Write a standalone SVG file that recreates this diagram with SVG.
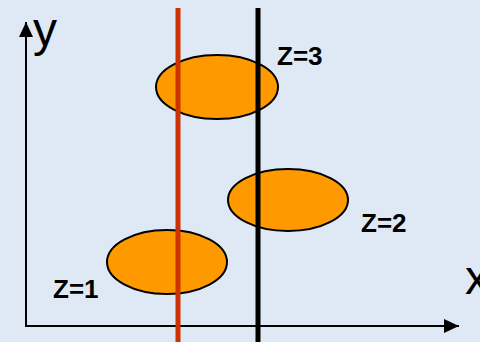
<svg xmlns="http://www.w3.org/2000/svg" width="480" height="342" viewBox="0 0 480 342">
<defs>
<marker id="ah" markerWidth="16" markerHeight="14" refX="15" refY="7" orient="auto" markerUnits="userSpaceOnUse"><path d="M0,0 L15,7 L0,14 Z" fill="#000"/></marker>
<style>
.el{fill:#ff9900;stroke:#000;stroke-width:2}
.lbl{font-family:"Liberation Sans",Arial,sans-serif;font-weight:bold;font-size:26px;fill:#000}
.ax{font-family:"Liberation Sans",Arial,sans-serif;font-size:48px;fill:#000}
</style>
</defs>
<rect width="480" height="342" fill="#dfe9f5"/>
<g id="connectors">
<line x1="26" y1="327" x2="26" y2="22" stroke="#000" stroke-width="2" marker-end="url(#ah)"/>
<line x1="26" y1="326" x2="459" y2="326" stroke="#000" stroke-width="2" marker-end="url(#ah)"/>
</g>
<g id="labels-axes">
<text class="ax" x="33" y="46">y</text>
<text class="ax" x="465" y="294">x</text>
</g>
<g id="e3"><ellipse class="el" cx="217" cy="87" rx="61" ry="32"/><text class="lbl" x="277" y="65">Z=3</text></g>
<g id="e2"><ellipse class="el" cx="288" cy="200" rx="60" ry="31"/><text class="lbl" x="361" y="232">Z=2</text></g>
<g id="e1"><ellipse class="el" cx="167" cy="262" rx="60" ry="32"/><text class="lbl" x="53" y="298">Z=1</text></g>
<g id="lines">
<line x1="178" y1="8" x2="178" y2="342" stroke="#cc3300" stroke-width="5"/>
<line x1="258" y1="8" x2="258" y2="342" stroke="#000" stroke-width="5"/>
</g>
</svg>
